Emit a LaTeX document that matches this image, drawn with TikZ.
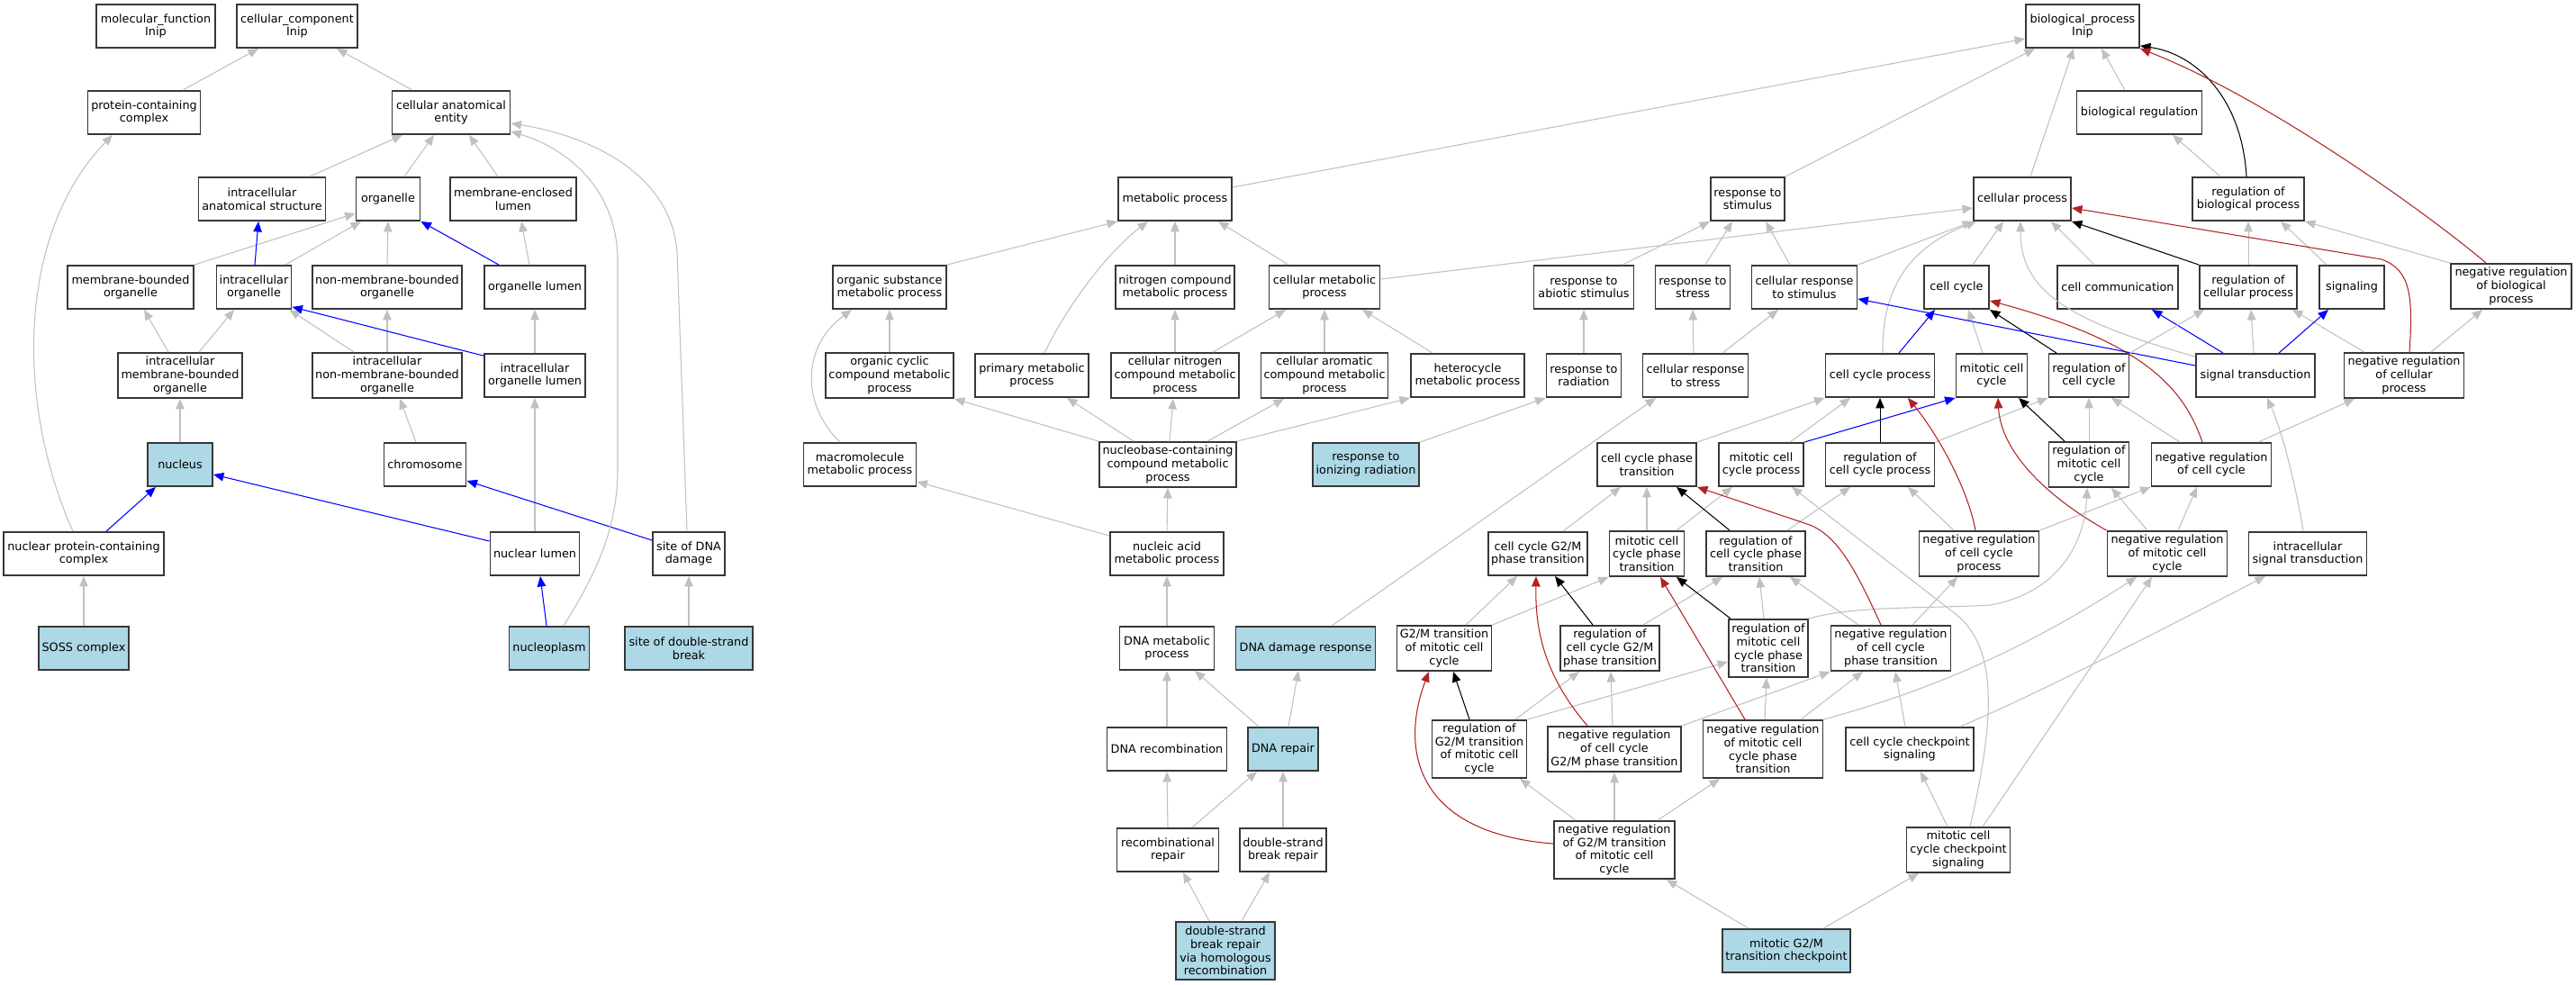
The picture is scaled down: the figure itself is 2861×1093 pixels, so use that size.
\documentclass[tikz,border=0pt]{standalone}
\usepackage{fontspec}
\setmainfont{DejaVu Sans}
\usetikzlibrary{arrows.meta}
\definecolor{edgegray}{RGB}{192,192,192}
\definecolor{lightblue}{RGB}{173,216,230}
\definecolor{firebrick}{RGB}{178,34,34}
\definecolor{boxline}{RGB}{55,55,55}
\newcommand\gofont{\fontsize{12.8pt}{14.7pt}\selectfont}
\tikzset{
  gonode/.style={draw=boxline, line width=1.9pt, fill=white, inner sep=0pt, align=center, font=\gofont, minimum height=48pt},
  hl/.style={fill=lightblue},
  bw/.style={minimum width=#1pt},
  tallc/.style={minimum height=50pt},
  talld/.style={minimum height=64pt},
  edgebase/.style={line width=1.05pt, -{Triangle[length=11.5pt,width=9.5pt]}},
  ge/.style={edgebase, draw=edgegray},
  be/.style={edgebase, draw=blue},
  re/.style={edgebase, draw=firebrick},
  ke/.style={edgebase, draw=black},
}
\begin{document}
\begin{tikzpicture}[x=1pt,y=1pt]
\fill[white] (0,0) rectangle (2861,-1093);
\useasboundingbox (0,0) rectangle (2861,-1093);
% ---------------- cellular component ----------------
\node[gonode,bw=132] (mf) at (173,-29) {molecular\_function\\Inip};
\node[gonode,bw=134] (cc) at (330,-29) {cellular\_component\\Inip};
\node[gonode,bw=125] (pcc) at (160,-125) {protein-containing\\complex};
\node[gonode,bw=131] (cae) at (501,-125) {cellular anatomical\\entity};
\node[gonode,bw=141] (ias) at (291,-221) {intracellular\\anatomical structure};
\node[gonode,bw=71] (org) at (431,-221) {organelle};
\node[gonode,bw=140] (mel) at (570,-221) {membrane-enclosed\\lumen};
\node[gonode,bw=140] (mbo) at (145,-319) {membrane-bounded\\organelle};
\node[gonode,bw=83] (io) at (282,-319) {intracellular\\organelle};
\node[gonode,bw=166] (nmbo) at (430,-319) {non-membrane-bounded\\organelle};
\node[gonode,bw=112] (ol) at (594,-319) {organelle lumen};
\node[gonode,bw=138,tallc] (imbo) at (200,-417) {intracellular\\membrane-bounded\\organelle};
\node[gonode,bw=166,tallc] (inmbo) at (430,-417) {intracellular\\non-membrane-bounded\\organelle};
\node[gonode,bw=112] (iol) at (594,-417) {intracellular\\organelle lumen};
\node[gonode,bw=72,hl] (nuc) at (200,-516) {nucleus};
\node[gonode,bw=91] (chr) at (472,-516) {chromosome};
\node[gonode,bw=178] (npcc) at (93,-615) {nuclear protein-containing\\complex};
\node[gonode,bw=99] (nl) at (594,-615) {nuclear lumen};
\node[gonode,bw=80] (sdd) at (765,-615) {site of DNA\\damage};
\node[gonode,bw=100,hl] (soss) at (93,-720) {SOSS complex};
\node[gonode,bw=89,hl] (np) at (610,-720) {nucleoplasm};
\node[gonode,bw=142,hl] (sdsb) at (765,-720) {site of double-strand\\break};
% ---------------- metabolic ----------------
\node[gonode,bw=126] (mp) at (1305,-221) {metabolic process};
\node[gonode,bw=126] (osmp) at (988,-319) {organic substance\\metabolic process};
\node[gonode,bw=132] (ncmp) at (1305,-319) {nitrogen compound\\metabolic process};
\node[gonode,bw=123] (cmp) at (1471,-319) {cellular metabolic\\process};
\node[gonode,bw=142,tallc] (occmp) at (988,-417) {organic cyclic\\compound metabolic\\process};
\node[gonode,bw=126] (pmp) at (1146,-417) {primary metabolic\\process};
\node[gonode,bw=142,tallc] (cncmp) at (1305,-417) {cellular nitrogen\\compound metabolic\\process};
\node[gonode,bw=141,tallc] (cacmp) at (1471,-417) {cellular aromatic\\compound metabolic\\process};
\node[gonode,bw=126] (hmp) at (1630,-417) {heterocycle\\metabolic process};
\node[gonode,bw=125] (mmp) at (955,-516) {macromolecule\\metabolic process};
\node[gonode,bw=152,tallc] (nbcmp) at (1297,-516) {nucleobase-containing\\compound metabolic\\process};
\node[gonode,bw=118,hl] (rir) at (1517,-516) {response to\\ionizing radiation};
\node[gonode,bw=126] (namp) at (1296,-615) {nucleic acid\\metabolic process};
\node[gonode,bw=105] (dmp) at (1296,-720) {DNA metabolic\\process};
\node[gonode,bw=155,hl] (ddr) at (1450,-720) {DNA damage response};
\node[gonode,bw=133] (drec) at (1296,-832) {DNA recombination};
\node[gonode,bw=78,hl] (drep) at (1425,-832) {DNA repair};
\node[gonode,bw=113] (rrep) at (1297,-944) {recombinational\\repair};
\node[gonode,bw=96] (dsbr) at (1425,-944) {double-strand\\break repair};
\node[gonode,bw=110,talld,hl] (dsbrhr) at (1361,-1056) {double-strand\\break repair\\via homologous\\recombination};
% ---------------- biological process ----------------
\node[gonode,bw=126] (bp) at (2313,-29) {biological\_process\\Inip};
\node[gonode,bw=139] (breg) at (2376,-125) {biological regulation};
\node[gonode,bw=82] (rs) at (1941,-221) {response to\\stimulus};
\node[gonode,bw=108] (cp) at (2246,-221) {cellular process};
\node[gonode,bw=124] (rbp) at (2497,-221) {regulation of\\biological process};
\node[gonode,bw=111] (ras) at (1759,-319) {response to\\abiotic stimulus};
\node[gonode,bw=83] (rstr) at (1880,-319) {response to\\stress};
\node[gonode,bw=117] (crs) at (2004,-319) {cellular response\\to stimulus};
\node[gonode,bw=72] (ccy) at (2173,-319) {cell cycle};
\node[gonode,bw=134] (ccom) at (2352,-319) {cell communication};
\node[gonode,bw=108] (rcp) at (2497,-319) {regulation of\\cellular process};
\node[gonode,bw=72] (sig) at (2612,-319) {signaling};
\node[gonode,bw=134,tallc] (nrbp) at (2789,-318) {negative regulation\\of biological\\process};
\node[gonode,bw=83] (rrad) at (1759,-417) {response to\\radiation};
\node[gonode,bw=117] (crstr) at (1883,-417) {cellular response\\to stress};
\node[gonode,bw=121] (ccp) at (2088,-417) {cell cycle process};
\node[gonode,bw=79] (mcc) at (2212,-417) {mitotic cell\\cycle};
\node[gonode,bw=89] (rcc) at (2320,-417) {regulation of\\cell cycle};
\node[gonode,bw=132] (st) at (2505,-417) {signal transduction};
\node[gonode,bw=133,tallc] (nrcp) at (2670,-417) {negative regulation\\of cellular\\process};
\node[gonode,bw=110] (ccpt) at (1829,-516) {cell cycle phase\\transition};
\node[gonode,bw=94] (mccp) at (1956,-516) {mitotic cell\\cycle process};
\node[gonode,bw=121] (rccp) at (2088,-516) {regulation of\\cell cycle process};
\node[gonode,bw=89,tallc] (rmcc) at (2320,-516) {regulation of\\mitotic cell\\cycle};
\node[gonode,bw=133] (nrcc) at (2456,-516) {negative regulation\\of cell cycle};
\node[gonode,bw=110] (ccg2m) at (1708,-615) {cell cycle G2/M\\phase transition};
\node[gonode,bw=83,tallc] (mccpt) at (1829,-615) {mitotic cell\\cycle phase\\transition};
\node[gonode,bw=110,tallc] (rccpt) at (1950,-615) {regulation of\\cell cycle phase\\transition};
\node[gonode,bw=133,tallc] (nrccp) at (2198,-615) {negative regulation\\of cell cycle\\process};
\node[gonode,bw=133,tallc] (nrmcc) at (2407,-615) {negative regulation\\of mitotic cell\\cycle};
\node[gonode,bw=131] (ist) at (2563,-615) {intracellular\\signal transduction};
\node[gonode,bw=105,tallc] (g2mt) at (1604,-720) {G2/M transition\\of mitotic cell\\cycle};
\node[gonode,bw=110,tallc] (rccg2m) at (1788,-720) {regulation of\\cell cycle G2/M\\phase transition};
\node[gonode,bw=88,talld] (rmccpt) at (1964,-720) {regulation of\\mitotic cell\\cycle phase\\transition};
\node[gonode,bw=133,tallc] (nrccpt) at (2100,-720) {negative regulation\\of cell cycle\\phase transition};
\node[gonode,bw=105,talld] (rg2mt) at (1643,-832) {regulation of\\G2/M transition\\of mitotic cell\\cycle};
\node[gonode,bw=148,tallc] (nrccg2m) at (1793,-832) {negative regulation\\of cell cycle\\G2/M phase transition};
\node[gonode,bw=133,talld] (nrmccpt) at (1958,-832) {negative regulation\\of mitotic cell\\cycle phase\\transition};
\node[gonode,bw=142] (cccs) at (2121,-832) {cell cycle checkpoint\\signaling};
\node[gonode,bw=134,talld] (nrg2mt) at (1793,-944) {negative regulation\\of G2/M transition\\of mitotic cell\\cycle};
\node[gonode,bw=115,tallc] (mcccs) at (2175,-944) {mitotic cell\\cycle checkpoint\\signaling};
\node[gonode,bw=142,hl] (mg2mtc) at (1984,-1056) {mitotic G2/M\\transition checkpoint};
% ---------------- edges: cellular component ----------------
\draw[ge] ([xshift=43pt]pcc.north) -- ([xshift=-43pt]cc.south);
\draw[ge] ([xshift=-43pt]cae.north) -- ([xshift=44pt]cc.south);
\draw[ge] ([xshift=53pt]ias.north) -- ([xshift=-54pt]cae.south);
\draw[ge] ([xshift=18pt]org.north) -- ([xshift=-19pt]cae.south);
\draw[ge] ([xshift=-17pt]mel.north) -- ([xshift=20pt]cae.south);
\draw[ge] (mbo.north east) -- ([yshift=-16pt]org.west);
\draw[ge] ([xshift=35pt]io.north) -- ([xshift=-30pt]org.south);
\draw[be] ([xshift=1pt]io.north) -- ([xshift=-4pt]ias.south);
\draw[ge] (nmbo.north) -- (org.south);
\draw[be] ([xshift=-40pt]ol.north) -- (org.south east);
\draw[ge] ([xshift=-6pt]ol.north) -- ([xshift=9pt]mel.south);
\draw[ge] ([xshift=-13pt]imbo.north) -- ([xshift=15pt]mbo.south);
\draw[ge] ([xshift=21pt]imbo.north) -- ([xshift=-22pt]io.south);
\draw[ge] ([xshift=-37pt]inmbo.north) -- ([xshift=-3pt]io.south east);
\draw[ge] (inmbo.north) -- (nmbo.south);
\draw[ge] (iol.north) -- (ol.south);
\draw[be] ([yshift=-3pt]iol.north west) .. controls (500,-386) and (420,-365) .. ([yshift=3pt]io.south east);
\draw[ge] (nuc.north) -- (imbo.south);
\draw[ge] ([xshift=-10pt]chr.north) -- ([xshift=14pt]inmbo.south);
\draw[ge] ([xshift=-12pt]npcc.north) .. controls (18,-450) and (18,-260) .. ([xshift=-35pt]pcc.south);
\draw[be] ([xshift=25pt]npcc.north) -- ([xshift=-27pt]nuc.south);
\draw[be] ([yshift=14pt]nl.west) -- ([yshift=-11pt]nuc.east);
\draw[ge] (nl.north) -- (iol.south);
\draw[be] ([yshift=15pt]sdd.west) -- ([yshift=-18pt]chr.east);
\draw[ge] ([xshift=-2pt]sdd.north) -- (752,-280) .. controls (745,-190) and (650,-150) .. ([yshift=-12pt]cae.east);
\draw[be] ([xshift=-3pt]np.north) -- ([xshift=6pt]nl.south);
\draw[ge] ([xshift=16pt]np.north) .. controls (660,-640) and (686,-590) .. (686,-520) -- (686,-290) .. controls (686,-210) and (630,-165) .. ([yshift=-21pt]cae.east);
\draw[ge] (soss.north) -- (npcc.south);
\draw[ge] (sdsb.north) -- (sdd.south);
% ---------------- edges: metabolic ----------------
\draw[ge] ([yshift=13pt]mp.east) -- ([yshift=-14pt]bp.west);
\draw[ge] (osmp.north east) -- (mp.south west);
\draw[ge] ([xshift=14pt]pmp.north) .. controls (1185,-340) and (1230,-280) .. ([xshift=-30pt]mp.south);
\draw[ge] (ncmp.north) -- (mp.south);
\draw[ge] ([xshift=-40pt]cmp.north) -- ([xshift=48pt]mp.south);
\draw[ge] ([yshift=9pt]cmp.east) -- ([yshift=-10pt]cp.west);
\draw[ge] (occmp.north) -- (osmp.south);
\draw[ge] (cncmp.north) -- (ncmp.south);
\draw[ge] ([xshift=42pt]cncmp.north) -- ([xshift=-43pt]cmp.south);
\draw[ge] (cacmp.north) -- (cmp.south);
\draw[ge] ([xshift=-39pt]hmp.north) -- ([xshift=42pt]cmp.south);
\draw[ge] ([xshift=-22pt]mmp.north) .. controls (890,-450) and (890,-385) .. ([xshift=-42pt]osmp.south);
\draw[ge] (nbcmp.north west) -- (occmp.south east);
\draw[ge] ([xshift=-38pt]nbcmp.north) -- ([xshift=39pt]pmp.south);
\draw[ge] ([xshift=2pt]nbcmp.north) -- ([xshift=-2pt]cncmp.south);
\draw[ge] ([xshift=44pt]nbcmp.north) -- ([xshift=-45pt]cacmp.south);
\draw[ge] (nbcmp.north east) -- (hmp.south west);
\draw[ge] (namp.north) -- (nbcmp.south);
\draw[ge] ([yshift=20pt]namp.west) -- ([yshift=-19pt]mmp.east);
\draw[ge] (dmp.north) -- (namp.south);
\draw[ge] (drec.north) -- (dmp.south);
\draw[ge] ([xshift=-27pt]drep.north) -- ([xshift=31pt]dmp.south);
\draw[ge] ([xshift=6pt]drep.north) -- ([xshift=-8pt]ddr.south);
\draw[ge] (rrep.north) -- (drec.south);
\draw[ge] ([xshift=27pt]rrep.north) -- ([xshift=-29pt]drep.south);
\draw[ge] (dsbr.north) -- (drep.south);
\draw[ge] ([xshift=-18pt]dsbrhr.north) -- ([xshift=17pt]rrep.south);
\draw[ge] ([xshift=18pt]dsbrhr.north) -- ([xshift=-15pt]dsbr.south);
\draw[ge] ([xshift=29pt]ddr.north) -- ([xshift=-44pt]crstr.south);
\draw[ge] (rir.north east) -- (rrad.south west);
% ---------------- edges: response / regulation ----------------
\draw[ge] (rs.north east) -- ([xshift=11pt]bp.south west);
\draw[ge] ([xshift=43pt]ras.north) -- (rs.south west);
\draw[ge] ([xshift=14pt]rstr.north) -- ([xshift=-17pt]rs.south);
\draw[ge] ([xshift=-16pt]crs.north) -- ([xshift=20pt]rs.south);
\draw[ge] (crs.north east) -- (cp.south west);
\draw[ge] (rrad.north) -- (ras.south);
\draw[ge] ([xshift=-2pt]crstr.north) -- (rstr.south);
\draw[ge] ([xshift=30pt]crstr.north) -- ([xshift=-29pt]crs.south);
\draw[ge] ([xshift=9pt]cp.north) -- ([xshift=-10pt]bp.south);
\draw[ge] ([xshift=-16pt]breg.north) -- ([xshift=21pt]bp.south);
\draw[ke] ([xshift=-2pt]rbp.north) .. controls (2490,-110) and (2440,-60) .. ([yshift=3pt]bp.south east);
\draw[re] ([xshift=-28pt]nrbp.north) .. controls (2700,-240) and (2520,-110) .. (bp.south east);
\draw[ge] ([xshift=-31pt]rbp.north) -- ([xshift=37pt]breg.south);
\draw[ge] (rcp.north) -- (rbp.south);
\draw[ge] ([xshift=-28pt]sig.north) -- ([xshift=36pt]rbp.south);
\draw[ge] (nrbp.north west) -- (rbp.south east);
\draw[ke] (rcp.north west) -- (cp.south east);
\draw[ge] ([xshift=-26pt]ccom.north) -- ([xshift=32pt]cp.south);
\draw[ge] ([xshift=18pt]ccy.north) -- ([xshift=-21pt]cp.south);
\draw[ge] ([xshift=3pt]ccp.north) .. controls (2090,-320) and (2120,-275) .. ([xshift=4pt]cp.south west);
\draw[ge] ([yshift=21pt]st.west) .. controls (2290,-355) and (2244,-320) .. ([xshift=-2pt]cp.south);
\draw[re] ([xshift=6pt]nrcp.north) .. controls (2680,-330) and (2678,-300) .. (2645,-288) -- ([yshift=-10pt]cp.east);
\draw[ge] ([xshift=30pt]nrcp.north) -- ([xshift=-32pt]nrbp.south);
\draw[ge] ([xshift=-44pt]nrcp.north) -- ([xshift=49pt]rcp.south);
\draw[be] ([xshift=21pt]ccp.north) -- ([xshift=-24pt]ccy.south);
\draw[ge] ([xshift=-10pt]mcc.north) -- ([xshift=13pt]ccy.south);
\draw[ke] ([xshift=-36pt]rcc.north) -- (ccy.south east);
\draw[re] ([xshift=-10pt]nrcc.north) .. controls (2425,-430) and (2380,-380) .. ([yshift=-15pt]ccy.east);
\draw[ke] (rccp.north) -- (ccp.south);
\draw[ge] (rccp.north east) -- (rcc.south west);
\draw[ge] ([xshift=32pt]mccp.north) -- ([xshift=-33pt]ccp.south);
\draw[be] (mccp.north east) -- (mcc.south west);
\draw[ge] (ccpt.north east) -- (ccp.south west);
\draw[re] ([xshift=-4pt]nrccp.north) .. controls (2185,-540) and (2150,-480) .. ([xshift=31pt]ccp.south);
\draw[ke] ([xshift=-27pt]rmcc.north) -- ([xshift=30pt]mcc.south);
\draw[ge] (rmcc.north) -- (rcc.south);
\draw[ge] ([xshift=-35pt]nrcc.north) -- ([xshift=25pt]rcc.south);
\draw[ge] ([xshift=52pt]nrcc.north) -- ([xshift=-55pt]nrcp.south);
\draw[be] ([xshift=26pt]st.north) -- ([xshift=-26pt]sig.south);
\draw[be] ([xshift=-36pt]st.north) -- ([xshift=38pt]ccom.south);
\draw[be] ([yshift=11pt]st.west) -- ([yshift=-13pt]crs.east);
\draw[ge] ([xshift=-2pt]st.north) -- ([xshift=3pt]rcp.south);
\draw[ge] ([xshift=-5pt]ist.north) .. controls (2550,-540) and (2535,-480) .. ([xshift=13pt]st.south);
\draw[ge] (rcc.north east) -- ([xshift=6pt]rcp.south west);
% ---------------- edges: cell cycle phase ----------------
\draw[ge] ([xshift=28pt]ccg2m.north) -- ([xshift=-29pt]ccpt.south);
\draw[ge] (mccpt.north) -- (ccpt.south);
\draw[ge] ([xshift=33pt]mccpt.north) -- ([xshift=-32pt]mccp.south);
\draw[ke] ([xshift=-29pt]rccpt.north) -- ([xshift=33pt]ccpt.south);
\draw[ge] ([xshift=35pt]rccpt.north) -- ([xshift=-33pt]rccp.south);
\draw[ge] ([xshift=-28pt]nrccp.north) -- ([xshift=31pt]rccp.south);
\draw[ge] (nrccp.north east) -- (nrcc.south west);
\draw[ge] ([xshift=13pt]mcccs.north) .. controls (2215,-800) and (2220,-720) .. (2172,-682) -- ([xshift=34pt]mccp.south);
\draw[re] (nrmcc.north west) .. controls (2270,-550) and (2222,-500) .. ([xshift=7pt]mcc.south);
\draw[ge] ([xshift=-22pt]nrmcc.north) -- ([xshift=25pt]rmcc.south);
\draw[ge] ([xshift=12pt]nrmcc.north) -- ([xshift=-16pt]nrcc.south);
\draw[ge] ([xshift=24pt]g2mt.north) -- ([xshift=-23pt]ccg2m.south);
\draw[ge] (g2mt.north east) -- (mccpt.south west);
\draw[ke] ([xshift=-19pt]rccg2m.north) -- ([xshift=19pt]ccg2m.south);
\draw[ge] ([xshift=37pt]rccg2m.north) -- ([xshift=-37pt]rccpt.south);
\draw[ke] ([xshift=-42pt]rmccpt.north) -- ([xshift=33pt]mccpt.south);
\draw[ge] ([xshift=-5pt]rmccpt.north) -- ([xshift=4pt]rccpt.south);
\draw[ge] (rmccpt.north east) .. controls (2060,-672) and (2150,-676) .. (2210,-672) .. controls (2280,-660) and (2315,-610) .. ([xshift=-2pt]rmcc.south);
\draw[ge] ([xshift=-36pt]nrccpt.north) -- ([xshift=38pt]rccpt.south);
\draw[ge] ([xshift=24pt]nrccpt.north) -- ([xshift=-24pt]nrccp.south);
\draw[re] ([xshift=-11pt]nrccpt.north) .. controls (2060,-630) and (2040,-595) .. (2010,-583) -- (ccpt.south east);
\draw[ke] ([xshift=-11pt]rg2mt.north) -- ([xshift=10pt]g2mt.south);
\draw[ge] ([xshift=40pt]rg2mt.north) -- ([xshift=-34pt]rccg2m.south);
\draw[ge] (rg2mt.north east) -- ([yshift=-15pt]rmccpt.west);
\draw[ge] ([xshift=-2pt]nrccg2m.north) -- ([xshift=1pt]rccg2m.south);
\draw[re] ([xshift=-30pt]nrccg2m.north) .. controls (1715,-750) and (1705,-700) .. ([xshift=-2pt]ccg2m.south);
\draw[ge] (nrccg2m.north east) -- (nrccpt.south west);
\draw[re] ([xshift=-20pt]nrmccpt.north) -- ([xshift=15pt]mccpt.south);
\draw[ge] ([xshift=2pt]nrmccpt.north) -- ([xshift=-2pt]rmccpt.south);
\draw[ge] ([xshift=42pt]nrmccpt.north) -- ([xshift=-31pt]nrccpt.south);
\draw[ge] (nrmccpt.north east) .. controls (2150,-765) and (2250,-720) .. ([xshift=-34pt]nrmcc.south);
\draw[ge] ([xshift=-5pt]cccs.north) -- ([xshift=5pt]nrccpt.south);
\draw[ge] ([xshift=56pt]cccs.north) .. controls (2260,-772) and (2400,-700) .. ([xshift=-47pt]ist.south);
\draw[ge] ([xshift=-43pt]nrg2mt.north) -- ([xshift=45pt]rg2mt.south);
\draw[ge] (nrg2mt.north) -- (nrccg2m.south);
\draw[ge] ([xshift=48pt]nrg2mt.north) -- ([xshift=-48pt]nrmccpt.south);
\draw[re] ([yshift=7pt]nrg2mt.west) .. controls (1570,-925) and (1555,-830) .. ([xshift=-17pt]g2mt.south);
\draw[ge] ([xshift=-12pt]mcccs.north) -- ([xshift=12pt]cccs.south);
\draw[ge] ([xshift=27pt]mcccs.north) -- ([xshift=-17pt]nrmcc.south);
\draw[ge] ([xshift=-42pt]mg2mtc.north) -- ([xshift=58pt]nrg2mt.south);
\draw[ge] ([xshift=41pt]mg2mtc.north) -- ([xshift=-44pt]mcccs.south);
\end{tikzpicture}
\end{document}
